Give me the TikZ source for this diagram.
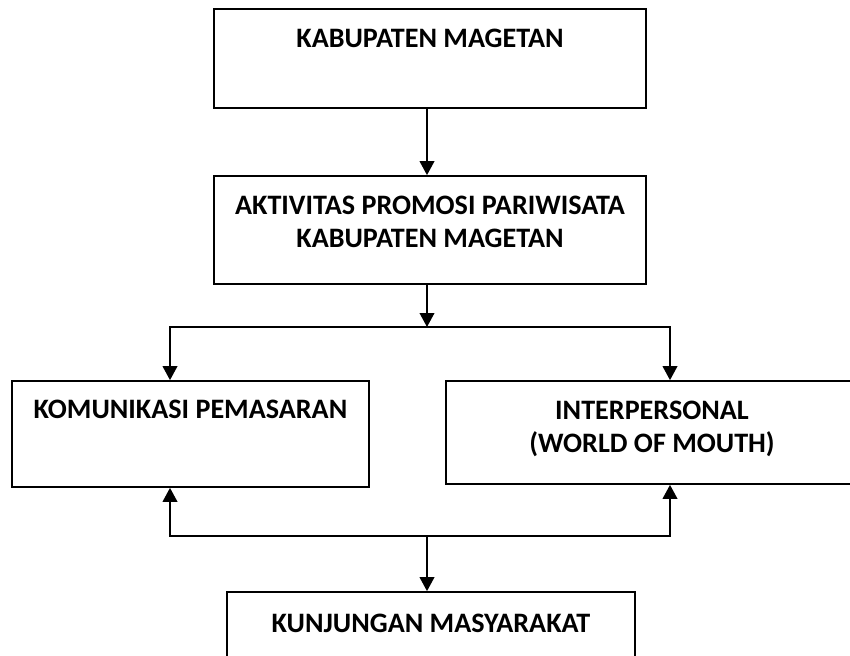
\documentclass[tikz,border=0pt]{standalone}
\usepackage{fontspec}
\setmainfont{Carlito}
\usetikzlibrary{arrows.meta}
\tikzset{
  kotak/.style={draw, line width=1.3pt, inner sep=0pt},
  tulisan/.style={font=\fontsize{21.1pt}{24.75pt}\selectfont\bfseries, align=center, inner sep=0pt},
  panah/.style={line width=1.3pt, -{Triangle[length=10.5pt,width=11pt]}},
  duapanah/.style={line width=1.3pt, {Triangle[length=10.5pt,width=11pt]}-{Triangle[length=10.5pt,width=11pt]}},
}
\begin{document}
\begin{tikzpicture}[x=0.75pt,y=-0.75pt]
  \useasboundingbox (0,0) rectangle (850,656);
  % kotak
  \node[kotak, minimum width=324pt, minimum height=74.25pt] (kab) at (430,58.5) {};
  \node[kotak, minimum width=324pt, minimum height=81pt] (akt) at (430,230) {};
  \node[kotak, minimum width=267.75pt, minimum height=79.5pt] (kom) at (190.5,434) {};
  \node[kotak, minimum width=309pt, minimum height=77.25pt] (inter) at (652,432.5) {};
  \node[kotak, minimum width=306pt, minimum height=75pt] (kun) at (431,642) {};
  % tulisan
  \node[tulisan] (kab-t) at (430,38) {KABUPATEN MAGETAN};
  \node[tulisan] (akt-t) at (430,221.5) {AKTIVITAS PROMOSI PARIWISATA\\KABUPATEN MAGETAN};
  \node[tulisan] (kom-t) at (190.5,409) {KOMUNIKASI PEMASARAN};
  \node[tulisan] (inter-t) at (652,428.5) {INTERPERSONAL\\(WORLD OF MOUTH)};
  \node[tulisan] (kun-t) at (431,623) {KUNJUNGAN MASYARAKAT};
  % titik cabang
  \coordinate (sumbu) at (427,0);
  \coordinate (atTengah) at (427,327);
  \coordinate (atKiri) at (170,327);
  \coordinate (atKanan) at (670,327);
  \coordinate (bwTengah) at (427,536);
  \coordinate (bwKiri) at (170,536);
  \coordinate (bwKanan) at (670,536);
  % panah
  \draw[panah] (kab.south -| sumbu) -- (akt.north -| sumbu);
  \draw[panah] (akt.south -| sumbu) -- (atTengah);
  \draw[duapanah] (kom.north -| atKiri) -- (atKiri) -- (atKanan) -- (inter.north -| atKanan);
  \draw[duapanah] (kom.south -| bwKiri) -- (bwKiri) -- (bwKanan) -- (inter.south -| bwKanan);
  \draw[panah] (bwTengah) -- (kun.north -| bwTengah);
\end{tikzpicture}
\end{document}
